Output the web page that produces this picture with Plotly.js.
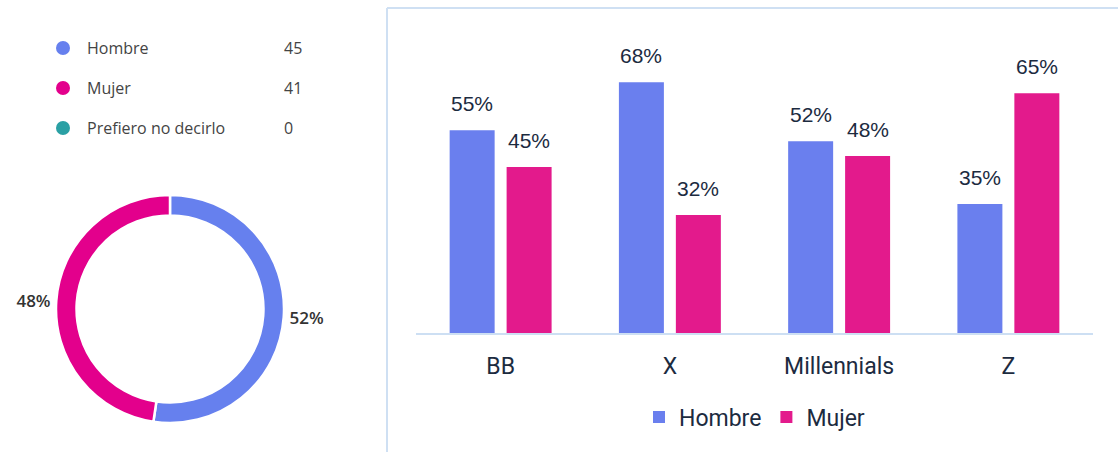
<!DOCTYPE html>
<html>
<head>
<meta charset="utf-8">
<script src="https://cdn.plot.ly/plotly-3.0.1.min.js"></script>
<style>html,body{margin:0;padding:0;background:#fff;}#chart{width:1118px;height:452px;}</style>
</head>
<body>
<div id="chart"></div>
<script>
// ---- data ----
const generations = ['BB', 'X', 'Millennials', 'Z'];
const hombrePct = [55, 68, 52, 35];
const mujerPct = [45, 32, 48, 65];
const seriesNames = ['Hombre', 'Mujer'];

const genderLabels = ['Hombre', 'Mujer', 'Prefiero no decirlo'];
const genderCounts = [45, 41, 0];

// ---- style ----
const W = 1118, H = 452;
const px = x => x / W;
const py = y => (H - y) / H;
const genderColors = ['#6680ee', '#e3008c', '#2aa0a4'];
const barColors = ['#6a7fee', '#e31a8c'];
const navy = '#1c2b3f';
const xDomain = [px(416), px(1093)];
const yDomain = [py(333), py(38)];
const bargap = 0.327;

const barSeries = [hombrePct, mujerPct];
const traces = barSeries.map((vals, s) => ({
  type: 'bar',
  name: seriesNames[s],
  x: generations,
  y: vals,
  marker: {color: barColors[s]},
  hoverinfo: 'none',
  cliponaxis: false
}));

// pie (only non-zero categories are drawn)
const pieIdx = genderCounts.map((v, i) => i).filter(i => genderCounts[i] > 0);
traces.push({
  type: 'pie',
  labels: pieIdx.map(i => genderLabels[i]),
  values: pieIdx.map(i => genderCounts[i]),
  marker: {colors: pieIdx.map(i => genderColors[i]), line: {color: '#ffffff', width: 2.5}},
  hole: 0.82,
  sort: false,
  direction: 'clockwise',
  rotation: 0,
  textposition: 'outside',
  texttemplate: '%{percent:.0%}',
  textfont: {family: 'Open Sans', size: 17, color: '#333333', weight: 600},
  showlegend: false,
  hoverinfo: 'none',
  domain: {x: [px(56), px(284)], y: [py(423), py(195)]}
});

// value labels above bars
const plotW = (xDomain[1] - xDomain[0]) * W;
const catW = plotW / generations.length;
const slot = catW * (1 - bargap) / 2;
const annotations = [];
barSeries.forEach((vals, s) => {
  vals.forEach((v, i) => {
    annotations.push({
      x: generations[i], y: v, xref: 'x', yref: 'y',
      xshift: (s === 0 ? -1 : 1) * slot / 2,
      yshift: 13,
      yanchor: 'bottom', xanchor: 'center',
      text: v + '%', showarrow: false,
      font: {family: 'Liberation Sans, Arial', size: 21, color: navy}
    });
  });
});

// left list (legend with counts)
const shapes = [];
genderLabels.forEach((lab, i) => {
  const cy = 48 + 40 * i;
  shapes.push({type: 'circle', xref: 'paper', yref: 'paper',
    x0: px(56), x1: px(70), y0: py(cy + 7), y1: py(cy - 7),
    fillcolor: genderColors[i], line: {width: 0}});
  annotations.push({xref: 'paper', yref: 'paper', x: px(85), y: py(cy),
    xanchor: 'left', yanchor: 'middle', text: lab, showarrow: false,
    font: {family: 'Open Sans', size: 16, color: '#444444'}});
  annotations.push({xref: 'paper', yref: 'paper', x: px(282), y: py(cy),
    xanchor: 'left', yanchor: 'middle', text: String(genderCounts[i]), showarrow: false,
    font: {family: 'Open Sans', size: 16, color: '#444444'}});
});

// right panel border
shapes.push({type: 'line', xref: 'paper', yref: 'paper', x0: px(387), x1: 1.05, y0: py(8), y1: py(8),
  line: {color: '#cfe0f3', width: 2}});
shapes.push({type: 'line', xref: 'paper', yref: 'paper', x0: px(387), x1: px(387), y0: py(8), y1: -0.05,
  line: {color: '#cfe0f3', width: 2}});

const layout = {
  width: W, height: H,
  margin: {l: 0, r: 0, t: 0, b: 0},
  paper_bgcolor: '#ffffff', plot_bgcolor: '#ffffff',
  barmode: 'group', bargap: bargap, bargroupgap: 0.21,
  xaxis: {domain: xDomain, showline: true, linecolor: '#cddff3', linewidth: 2,
    ticks: '', showgrid: false, zeroline: false, fixedrange: true,
    ticklabelstandoff: 11,
    tickfont: {family: 'Roboto', size: 23, color: navy}},
  yaxis: {domain: yDomain, range: [0, 80], visible: false, fixedrange: true},
  showlegend: true,
  legend: {orientation: 'h', x: (xDomain[0] + xDomain[1]) / 2, xanchor: 'center',
    y: py(417), yanchor: 'middle', itemwidth: 30, traceorder: 'normal',
    font: {family: 'Roboto', size: 23, color: navy}},
  annotations: annotations,
  shapes: shapes
};

Plotly.newPlot('chart', traces, layout, {displayModeBar: false, staticPlot: true});
</script>
</body>
</html>
